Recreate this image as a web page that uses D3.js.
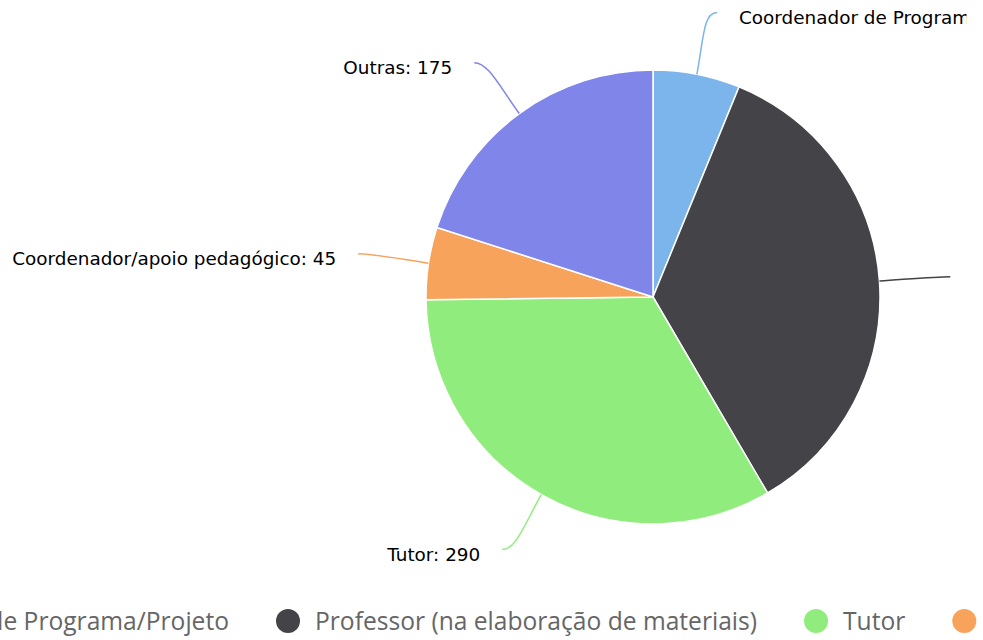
<!DOCTYPE html>
<html>
<head>
<meta charset="utf-8">
<script src="https://cdn.jsdelivr.net/npm/d3@7"></script>
<style>
  html, body { margin: 0; padding: 0; background: #fff; overflow: hidden; }
  svg { display: block; }
</style>
</head>
<body>
<svg id="chart" width="983" height="640"></svg>
<script>
// data
var categories = [
  "Coordenador de Programa/Projeto",
  "Professor (na elaboração de materiais)",
  "Tutor",
  "Coordenador/apoio pedagógico",
  "Outras"
];
var values = [54, 309, 290, 45, 175];
var colors = ["#7cb5ec", "#434348", "#90ed7d", "#f7a35c", "#8085e9"];

var svg = d3.select("#chart"),
    cx = 653, cy = 297,
    radius = 227,
    labelRadius = 290;

var data = categories.map(function(c, i) { return { name: c, value: values[i], color: colors[i] }; });

var pie = d3.pie().sort(null).value(function(d) { return d.value; });
var arc = d3.arc().innerRadius(0).outerRadius(radius);

var g = svg.append("g").attr("transform", "translate(" + cx + "," + cy + ")");

var slices = pie(data);

g.selectAll("path.slice")
  .data(slices)
  .enter()
  .append("path")
  .attr("class", "slice")
  .attr("d", arc)
  .attr("fill", function(d) { return d.data.color; })
  .attr("stroke", "#fff")
  .attr("stroke-width", 1.5)
  .attr("stroke-linejoin", "round");

// labels + connectors (the chart is wider than the view, so they run off the edge)
svg.append("clipPath").attr("id", "lblclip")
  .append("rect").attr("x", 0).attr("y", 0).attr("width", 966.5).attr("height", 640);

var lg = svg.append("g").attr("clip-path", "url(#lblclip)")
  .append("g").attr("transform", "translate(" + cx + "," + cy + ")");

function polar(a, r) { return [Math.sin(a) * r, -Math.cos(a) * r]; }

slices.forEach(function(d) {
  var a = (d.startAngle + d.endAngle) / 2;
  var side = Math.sin(a) >= 0 ? 1 : -1;
  var e = polar(a, radius);
  var p = polar(a, labelRadius);
  var end = [p[0] + side * 8, p[1]];
  var c1 = polar(a, radius + 0.55 * (labelRadius - radius));
  var c2 = [end[0] - side * 14, end[1]];
  lg.append("path")
    .attr("d", "M" + e + "C" + c1 + " " + c2 + " " + end)
    .attr("fill", "none")
    .attr("stroke", d.data.color)
    .attr("stroke-width", 1.5);
  lg.append("text")
    .attr("x", end[0] + side * 22)
    .attr("y", end[1] + 11.5)
    .attr("text-anchor", side > 0 ? "start" : "end")
    .style("font-family", "DejaVu Sans, sans-serif")
    .style("font-size", "18.4px")
    .style("fill", "#000")
    .text(d.data.name + ": " + d.data.value);
});

// legend (wider than the view)
var leg = svg.append("g");
var items = leg.selectAll("g.item").data(data).enter().append("g").attr("class", "item");
items.append("circle").attr("r", 12).attr("cy", 621).attr("fill", function(d) { return d.color; });
items.append("text")
  .attr("y", 630)
  .style("font-family", "Open Sans, sans-serif")
  .style("font-size", "24.6px")
  .style("fill", "#666")
  .text(function(d) { return d.name; });

var x = 0, pos = [];
items.each(function() {
  var w = d3.select(this).select("text").node().getComputedTextLength();
  pos.push(x);
  x += 27 + w + 59;
});
var start = 288 - pos[1];
items.each(function(d, i) {
  var sel = d3.select(this);
  sel.select("circle").attr("cx", start + pos[i]);
  sel.select("text").attr("x", start + pos[i] + 27);
});
</script>
</body>
</html>
